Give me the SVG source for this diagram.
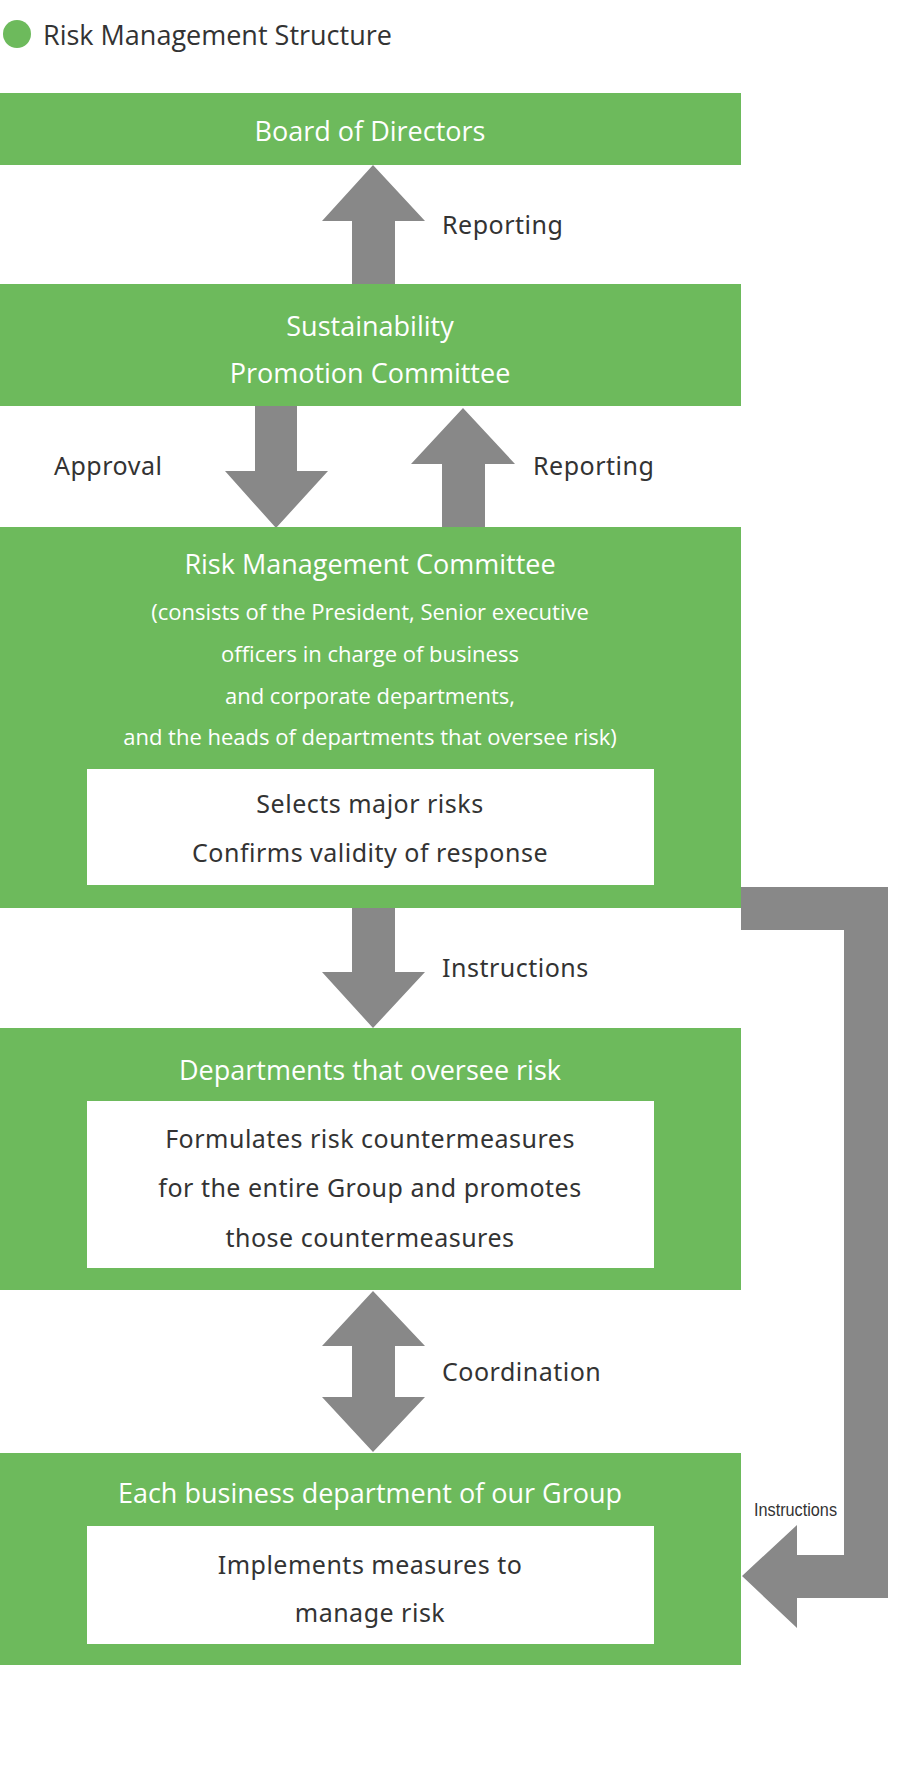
<svg xmlns="http://www.w3.org/2000/svg" width="910" height="1785" viewBox="0 0 910 1785">
<style>
.g{fill:#6dba5c}.w{fill:#fff}.a{fill:#888}
.t{font-family:"Open Sans","Liberation Sans",sans-serif;fill:#fff;text-anchor:middle;font-size:27px}
.s{font-family:"Open Sans","Liberation Sans",sans-serif;fill:#fff;text-anchor:middle;font-size:22px}
.b{font-family:"Noto Sans","Liberation Sans",sans-serif;fill:#333;text-anchor:middle;font-size:25px;letter-spacing:0.5px}
.l{font-family:"Noto Sans","Liberation Sans",sans-serif;fill:#333;font-size:25px;letter-spacing:0.5px}
</style>
<rect width="910" height="1785" fill="#fff"/>
<circle cx="17" cy="34" r="14" class="g"/>
<text x="43" y="45" font-family="Open Sans,Liberation Sans,sans-serif" font-size="27" fill="#333">Risk Management Structure</text>
<g id="connectors">
<polygon class="a" points="352,284 352,221 322,221 373,165 425,221 395,221 395,284"/>
<polygon class="a" points="255,406 297,406 297,471 328,471 276,528 225,471 255,471"/>
<polygon class="a" points="442,528 442,464 411,464 463,408 515,464 485,464 485,528"/>
<polygon class="a" points="352,908 395,908 395,972 425,972 373,1028 322,972 352,972"/>
<polygon class="a" points="373,1291 425,1346 395,1346 395,1397 425,1397 373,1452 322,1397 352,1397 352,1346 322,1346"/>
<polygon class="a" points="741,887 888,887 888,1598 797,1598 797,1628 742,1576 797,1525 797,1555 844,1555 844,930 741,930"/>
<text class="l" x="442" y="234">Reporting</text>
<text class="l" x="54" y="475">Approval</text>
<text class="l" x="533" y="475">Reporting</text>
<text class="l" x="442" y="977">Instructions</text>
<text class="l" x="442" y="1381">Coordination</text>
<text x="754" y="1516" font-family="Liberation Sans Narrow,Liberation Sans,sans-serif" font-size="19" fill="#333" textLength="83" lengthAdjust="spacingAndGlyphs">Instructions</text>
</g>
<g id="board"><rect class="g" x="0" y="93" width="741" height="72"/><text class="t" x="370" y="141">Board of Directors</text></g>
<g id="spc"><rect class="g" x="0" y="284" width="741" height="122"/><text class="t" x="370" y="336">Sustainability</text><text class="t" x="370" y="383">Promotion Committee</text></g>
<g id="rmc"><rect class="g" x="0" y="527" width="741" height="381"/>
<text class="t" x="370" y="574">Risk Management Committee</text>
<text class="s" x="370" y="620">(consists of the President, Senior executive</text>
<text class="s" x="370" y="662">officers in charge of business</text>
<text class="s" x="370" y="704">and corporate departments,</text>
<text class="s" x="370" y="745">and the heads of departments that oversee risk)</text>
<rect class="w" x="87" y="769" width="567" height="116"/>
<text class="b" x="370" y="813">Selects major risks</text>
<text class="b" x="370" y="862">Confirms validity of response</text></g>
<g id="dept"><rect class="g" x="0" y="1028" width="741" height="262"/>
<text class="t" x="370" y="1080">Departments that oversee risk</text>
<rect class="w" x="87" y="1101" width="567" height="167"/>
<text class="b" x="370" y="1148">Formulates risk countermeasures</text>
<text class="b" x="370" y="1197">for the entire Group and promotes</text>
<text class="b" x="370" y="1247">those countermeasures</text></g>
<g id="each"><rect class="g" x="0" y="1453" width="741" height="212"/>
<text class="t" x="370" y="1503">Each business department of our Group</text>
<rect class="w" x="87" y="1526" width="567" height="118"/>
<text class="b" x="370" y="1574">Implements measures to</text>
<text class="b" x="370" y="1622">manage risk</text></g>
</svg>
